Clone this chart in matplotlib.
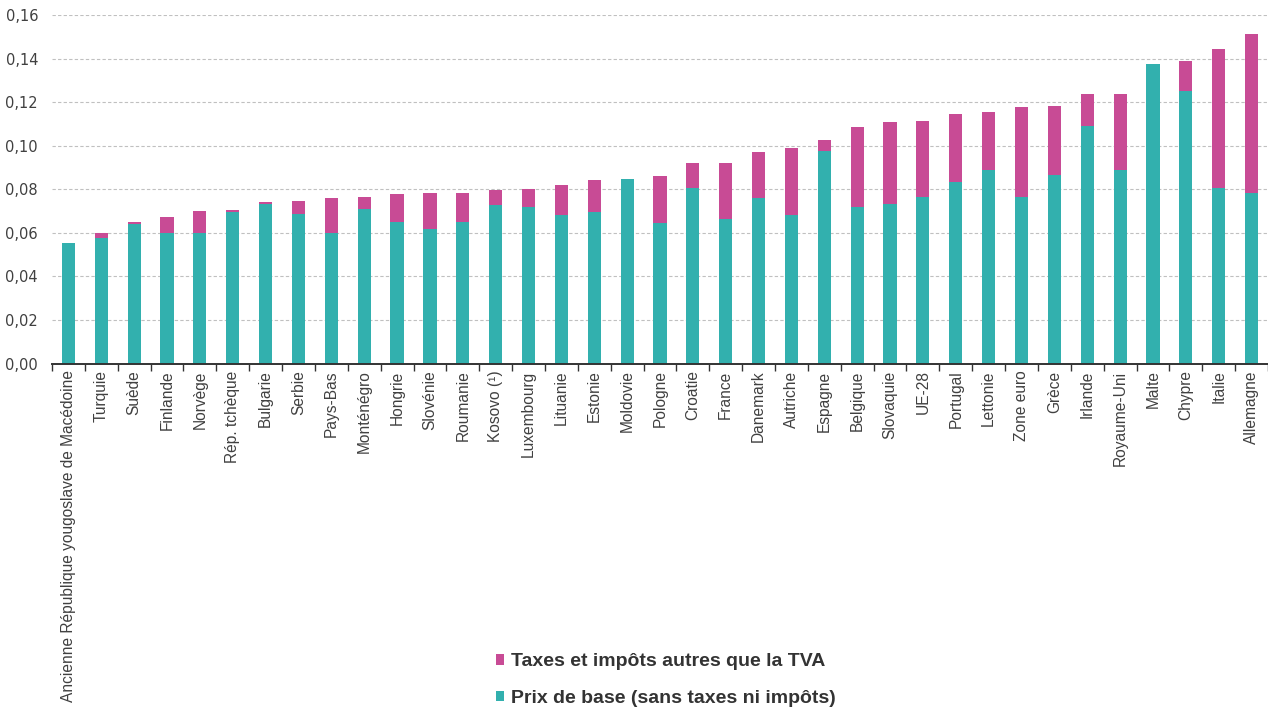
import matplotlib.pyplot as plt
import numpy as np
from matplotlib.ticker import FuncFormatter, MultipleLocator, FixedLocator

countries = [
    "Ancienne République yougoslave de Macédoine", "Turquie", "Suède", "Finlande",
    "Norvège", "Rép. tchèque", "Bulgarie", "Serbie", "Pays-Bas", "Monténégro",
    "Hongrie", "Slovénie", "Roumanie", "Kosovo (¹)", "Luxembourg", "Lituanie",
    "Estonie", "Moldovie", "Pologne", "Croatie", "France", "Danemark", "Autriche",
    "Espagne", "Belgique", "Slovaquie", "UE-28", "Portugal", "Lettonie",
    "Zone euro", "Grèce", "Irlande", "Royaume-Uni", "Malte", "Chypre", "Italie",
    "Allemagne",
]

# prix de base (sans taxes ni impôts)
base = [
    0.0556, 0.0577, 0.0642, 0.0599, 0.0599, 0.0695, 0.0733, 0.0687, 0.0599, 0.0712,
    0.0648, 0.0617, 0.0652, 0.0730, 0.0718, 0.0683, 0.0694, 0.0848, 0.0646, 0.0807,
    0.0665, 0.0759, 0.0683, 0.0978, 0.0718, 0.0732, 0.0766, 0.0836, 0.0890, 0.0766,
    0.0867, 0.1092, 0.0890, 0.1377, 0.1252, 0.0807, 0.0782,
]

# prix total (base + taxes et impôts autres que la TVA)
total = [
    0.0556, 0.0599, 0.0649, 0.0671, 0.0700, 0.0706, 0.0743, 0.0747, 0.0759, 0.0766,
    0.0778, 0.0784, 0.0784, 0.0795, 0.0801, 0.0821, 0.0842, 0.0848, 0.0862, 0.0920,
    0.0920, 0.0972, 0.0992, 0.1026, 0.1086, 0.1109, 0.1116, 0.1145, 0.1158, 0.1179,
    0.1185, 0.1239, 0.1239, 0.1377, 0.1389, 0.1447, 0.1513,
]

labels = ["Taxes et impôts autres que la TVA", "Prix de base (sans taxes ni impôts)"]

teal = "#32b0ae"
magenta = "#c84b95"
text_col = "#404040"

base = np.array(base)
taxes = np.array(total) - base
x = np.arange(len(countries))

fig = plt.figure(figsize=(12.68, 7.09), dpi=100)
ax = fig.add_axes([0.041, 0.4873, 0.959, 0.4911])

b1 = ax.bar(x, base, width=0.4, color=teal, zorder=3)
b2 = ax.bar(x, taxes, bottom=base, width=0.4, color=magenta, zorder=3)

ax.set_xlim(-0.5, len(countries) - 0.5)
ax.set_ylim(0, 0.16)
ax.yaxis.set_major_locator(MultipleLocator(0.02))
ax.yaxis.set_major_formatter(FuncFormatter(lambda v, p: f"{v:.2f}".replace(".", ",")))
ax.grid(axis="y", linestyle=(0, (3, 2)), color="#c0c0c0", linewidth=0.8, zorder=0)

for s in ["top", "right", "left"]:
    ax.spines[s].set_visible(False)
ax.spines["bottom"].set_color("#333333")
ax.spines["bottom"].set_linewidth(1.4)
ax.spines["bottom"].set_zorder(4)

ax.tick_params(axis="y", length=0, labelsize=10.5, labelcolor=text_col, pad=10)

# category boundary ticks below the axis
ax.xaxis.set_major_locator(FixedLocator(np.arange(len(countries) + 1) - 0.5))
ax.xaxis.set_major_formatter(FuncFormatter(lambda v, p: ""))
ax.tick_params(axis="x", which="major", length=5, width=1, color="#333333")
ax.set_xticks(x, minor=True)
ax.set_xticklabels(countries, minor=True, rotation=90, fontsize=11.2, color=text_col,
                   family=["Liberation Sans", "DejaVu Sans"])
ax.tick_params(axis="x", which="minor", length=0, pad=5)

fig.legend([b2, b1], labels, loc="center", bbox_to_anchor=(0.525, 0.041),
           frameon=False, ncol=1, handlelength=0.45, handleheight=0.45,
           handletextpad=0.35, labelspacing=1.0,
           prop={"family": ["Liberation Sans"], "weight": "bold", "size": 14})
for t in fig.legends[0].get_texts():
    t.set_color("#333333")

fig.savefig("out.png", dpi=100)
